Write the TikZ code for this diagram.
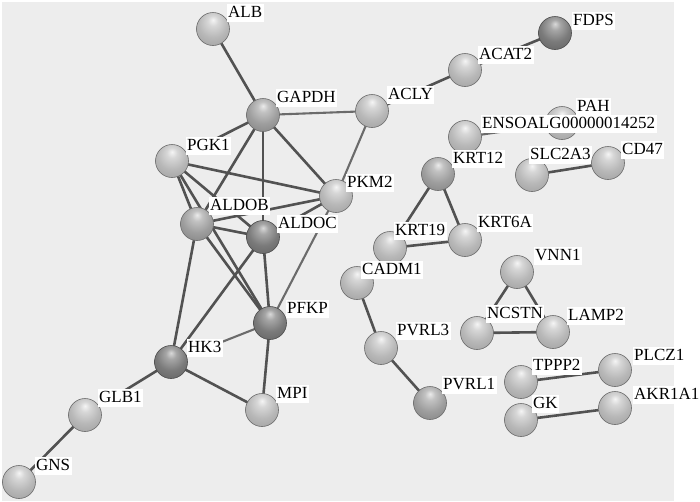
\documentclass[tikz,border=0pt]{standalone}
\usepackage{fontspec}
\setmainfont{Liberation Serif}
\pgfdeclarelayer{bg}
\pgfdeclarelayer{edgelayer}
\pgfsetlayers{bg,edgelayer,main}
\pgfdeclareradialshading{lightsph}{\pgfpoint{0bp}{14bp}}{%
  color(0bp)=(black!4); color(8bp)=(black!16); color(22bp)=(black!28);
  color(36bp)=(black!36); color(50bp)=(black!48); color(64bp)=(black!58)}
\pgfdeclareradialshading{midsph}{\pgfpoint{0bp}{14bp}}{%
  color(0bp)=(black!8); color(8bp)=(black!24); color(22bp)=(black!38);
  color(36bp)=(black!47); color(50bp)=(black!57); color(64bp)=(black!66)}
\pgfdeclareradialshading{darksph}{\pgfpoint{0bp}{14bp}}{%
  color(0bp)=(black!15); color(8bp)=(black!35); color(22bp)=(black!52);
  color(36bp)=(black!60); color(50bp)=(black!68); color(64bp)=(black!75)}
\newcommand\gene[6]{%
  \node[#6] (#1) at (#2,#3) {};
  \node[lab] (l#1) at (#4-1.5,#5) {#1};}
\begin{document}
\begin{tikzpicture}[x=1pt,y=-1pt,
  ball/.style={circle,minimum size=33pt,inner sep=0pt,shading=lightsph,draw=black!58,line width=0.6pt},
  midball/.style={ball,shading=midsph},
  darkball/.style={ball,shading=darksph,draw=black!70},
  lab/.style={fill=white,inner xsep=1.5pt,inner ysep=1.5pt,anchor=base west,font=\fontsize{17}{17}\selectfont,text height=12pt,text depth=3pt},
  lnk/.style={draw=black!68,line width=2.6pt},
  lnklight/.style={draw=black!58,line width=2.1pt}]
\useasboundingbox (0,0) rectangle (700,501);
\begin{pgfonlayer}{bg}
\fill[white] (0,0) rectangle (700,501);
\fill[black!7] (2,2) rectangle (674,501);
\end{pgfonlayer}
% nodes: name, x, y, label x, label baseline y, style
\gene{ALB}{213}{29}{228}{17}{ball}
\gene{GAPDH}{263}{115}{277}{102}{midball}
\gene{ACLY}{372}{111}{388}{99}{ball}
\gene{PGK1}{172}{161}{187}{150}{ball}
\gene{PKM2}{336}{196}{347}{187}{ball}
\gene{ALDOB}{197}{224}{210}{210}{midball}
\gene{ALDOC}{263}{237}{278}{228}{darkball}
\gene{PFKP}{270}{323}{287}{313}{darkball}
\gene{HK3}{171}{362}{188}{352}{darkball}
\gene{MPI}{262}{410}{277}{398}{ball}
\gene{GLB1}{85}{415}{99}{402}{ball}
\gene{GNS}{19}{482}{36}{470}{ball}
\gene{ACAT2}{465}{70}{479}{59}{ball}
\gene{FDPS}{555}{33}{573}{25}{darkball}
\gene{PAH}{562}{123}{577}{111}{ball}
\gene{ENSOALG00000014252}{465}{137}{482}{128}{ball}
\gene{KRT12}{438}{174}{453}{163}{midball}
\gene{SLC2A3}{532}{175}{530}{159}{ball}
\gene{CD47}{608}{163}{622}{154}{ball}
\gene{KRT19}{390}{248}{395}{235}{ball}
\gene{KRT6A}{465}{240}{478}{227}{ball}
\gene{CADM1}{357}{283}{362}{274}{ball}
\gene{PVRL3}{381}{348}{397}{335}{ball}
\gene{PVRL1}{430}{403}{443}{389}{midball}
\gene{VNN1}{517}{272}{535}{260}{ball}
\gene{NCSTN}{477}{333}{487}{318}{ball}
\gene{LAMP2}{553}{332}{568}{320}{ball}
\gene{TPPP2}{521}{382}{533}{370}{ball}
\gene{PLCZ1}{615}{370}{634}{360}{ball}
\gene{GK}{521}{420}{533}{408}{ball}
\gene{AKR1A1}{615}{408}{634}{399}{ball}
\begin{pgfonlayer}{edgelayer}
\foreach \a/\b in {ALB/GAPDH,GAPDH/PGK1,GAPDH/ALDOB,GAPDH/ALDOC,GAPDH/PKM2,
  PGK1/PKM2,PGK1/ALDOB,PGK1/ALDOC,PGK1/PFKP,ALDOB/PKM2,ALDOB/ALDOC,ALDOB/PFKP,
  ALDOB/HK3,ALDOC/PKM2,ALDOC/PFKP,ALDOC/HK3,PFKP/MPI,HK3/MPI,HK3/GLB1,GLB1/GNS,
  ACLY/ACAT2,ACAT2/FDPS,KRT12/KRT19,KRT12/KRT6A,KRT19/KRT6A,SLC2A3/CD47,
  CADM1/PVRL3,PVRL3/PVRL1,VNN1/NCSTN,VNN1/LAMP2,NCSTN/LAMP2,TPPP2/PLCZ1,GK/AKR1A1}
  \draw[lnk] (\a.center) -- (\b.center);
\foreach \a/\b in {GAPDH/ACLY,ACLY/PKM2,PKM2/PFKP,HK3/PFKP,ENSOALG00000014252/PAH}
  \draw[lnklight] (\a.center) -- (\b.center);
\end{pgfonlayer}
\end{tikzpicture}
\end{document}
